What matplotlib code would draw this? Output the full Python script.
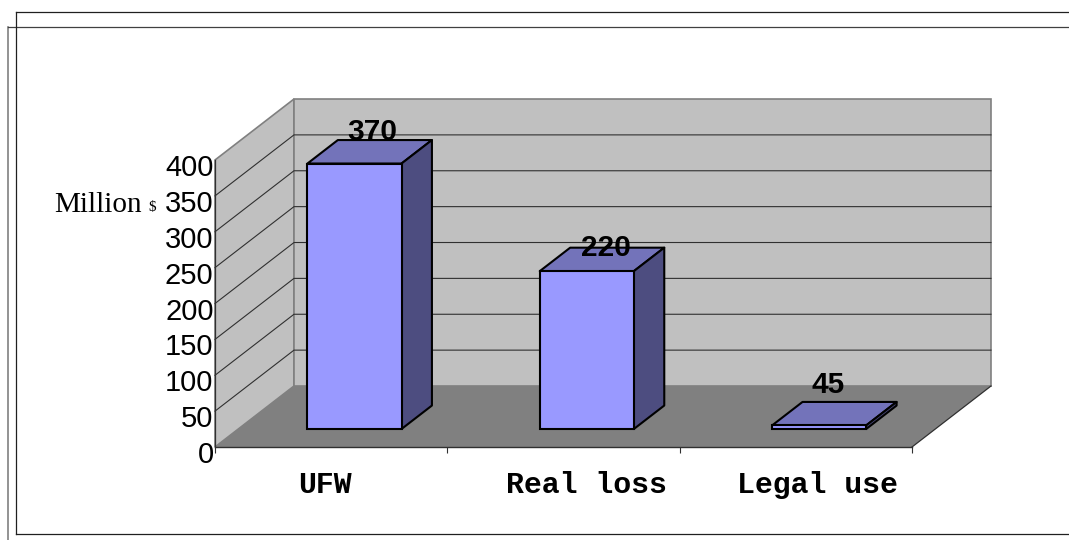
import matplotlib
matplotlib.use('Agg')
import matplotlib.pyplot as plt
from matplotlib.patches import Polygon
from matplotlib.transforms import ScaledTranslation

categories = ['UFW', 'Real loss', 'Legal use']
labels = [370, 220, 45]
# the picture draws the third bar almost flat, whatever its label says
heights = [370, 220, 5]
yticks = [0, 50, 100, 150, 200, 250, 300, 350, 400]

W, H = 1069, 540
ymax = 400
depth_x, depth_y = 0.34, 85.0  # full floor depth in data units
bar_w = 0.405
d0, d1 = 0.295, 0.68  # front and back of the bars on the floor

def ob(x, y, d):
    return (x + depth_x * d, y + depth_y * d)

fig = plt.figure(figsize=(W / 100, H / 100), dpi=100)

# page frames, in pixels
bg = fig.add_axes([0, 0, 1, 1])
bg.set_xlim(0, W)
bg.set_ylim(H, 0)
bg.axis('off')
bg.plot([8, 8], [27, 540], color='#808080', lw=1.2)
bg.plot([8, W], [27, 27], color='#404040', lw=0.9)
bg.plot([16, 16], [534, 12], color='#202020', lw=0.9)
bg.plot([16, W], [12, 12], color='#202020', lw=0.9)
bg.plot([16, W], [534, 534], color='#202020', lw=0.9)

ax = fig.add_axes([215 / W, 1 - 447 / H, 697 / W, 287 / H])
ax.set_xlim(0, 3)
ax.set_ylim(0, ymax)
ax.patch.set_visible(False)
for s in ['top', 'right', 'bottom']:
    ax.spines[s].set_visible(False)
ax.spines['left'].set_color('#303030')
ax.spines['left'].set_linewidth(0.9)
ax.spines['left'].set_zorder(6)

# walls and floor
ax.add_patch(Polygon([ob(0, 0, 0), ob(0, ymax, 0), ob(0, ymax, 1), ob(0, 0, 1)],
                     fc='#C0C0C0', ec='#808080', lw=1.2, clip_on=False, zorder=1))
ax.add_patch(Polygon([ob(0, 0, 1), ob(0, ymax, 1), ob(3, ymax, 1), ob(3, 0, 1)],
                     fc='#C0C0C0', ec='#808080', lw=1.2, clip_on=False, zorder=1))
ax.add_patch(Polygon([ob(0, 0, 0), ob(3, 0, 0), ob(3, 0, 1), ob(0, 0, 1)],
                     fc='#808080', ec='none', clip_on=False, zorder=2))
ax.plot(*zip(ob(3, 0, 0), ob(3, 0, 1)), color='#303030', lw=0.9, clip_on=False, zorder=3)
ax.plot(*zip(ob(0, 0, 0), ob(3, 0, 0)), color='#303030', lw=1.0, clip_on=False, zorder=3)

# gridlines run along the left wall and the back wall
for t in yticks[1:-1]:
    pts = [ob(0, t, 0), ob(0, t, 1), ob(3, t, 1)]
    ax.plot(*zip(*pts), color='#303030', lw=0.8, clip_on=False, zorder=2)

# bars
for i, h in enumerate(heights):
    x0 = i + 0.5 - bar_w / 2
    x1 = i + 0.5 + bar_w / 2
    ax.add_patch(Polygon([ob(x0, h, d0), ob(x1, h, d0), ob(x1, h, d1), ob(x0, h, d1)],
                         fc='#7373BA', ec='black', lw=1.5, clip_on=False, zorder=4, joinstyle='round'))
    ax.add_patch(Polygon([ob(x1, 0, d0), ob(x1, h, d0), ob(x1, h, d1), ob(x1, 0, d1)],
                         fc='#4D4D80', ec='black', lw=1.5, clip_on=False, zorder=4, joinstyle='round'))
ax.bar([ob(i + 0.5, 0, d0)[0] for i in range(3)], heights, bar_w, bottom=depth_y * d0,
       color='#9999FF', edgecolor='black', linewidth=1.5, clip_on=False, zorder=5)

# value labels, nudged by hand like in the picture
nudges = [(18, 32), (19, 23), (9, 40)]
for i, h in enumerate(heights):
    ax.annotate(str(labels[i]), ob(i + 0.5, h, d0), xytext=nudges[i], textcoords='offset pixels',
                ha='center', va='center', fontsize=21.5, fontweight='bold',
                family='Liberation Sans', color='black', zorder=7, annotation_clip=False)

# axes ticks and labels
ax.set_yticks(yticks)
ax.tick_params(axis='y', length=0, pad=1, labelsize=21)
down = ScaledTranslation(0, -5 / 100, fig.dpi_scale_trans)
for lab in ax.get_yticklabels():
    lab.set_family('Liberation Sans')
    lab.set_transform(lab.get_transform() + down)

ax.set_xticks([0.5, 1.5, 2.5])
ax.set_xticklabels(categories)
ax.set_xticks([0, 1, 2, 3], minor=True)
ax.tick_params(axis='x', which='major', length=0, pad=17.5, labelsize=21.5)
ax.tick_params(axis='x', which='minor', length=4, width=0.8, color='#303030')
shifts = [-6, 23, 22]
for lab, dx in zip(ax.get_xticklabels(), shifts):
    lab.set_family('Liberation Mono')
    lab.set_fontweight('bold')
    lab.set_transform(lab.get_transform() + ScaledTranslation(dx / 100, 0, fig.dpi_scale_trans))

ax.annotate('Million', (0, 350), xytext=(-161, -9), textcoords='offset pixels', ha='left', va='center',
            family='Liberation Serif', fontsize=21, annotation_clip=False)
ax.annotate('$', (0, 350), xytext=(-63, -12), textcoords='offset pixels', ha='center', va='center',
            family='Liberation Serif', fontsize=11, annotation_clip=False)

fig.savefig('out.png', dpi=100)
